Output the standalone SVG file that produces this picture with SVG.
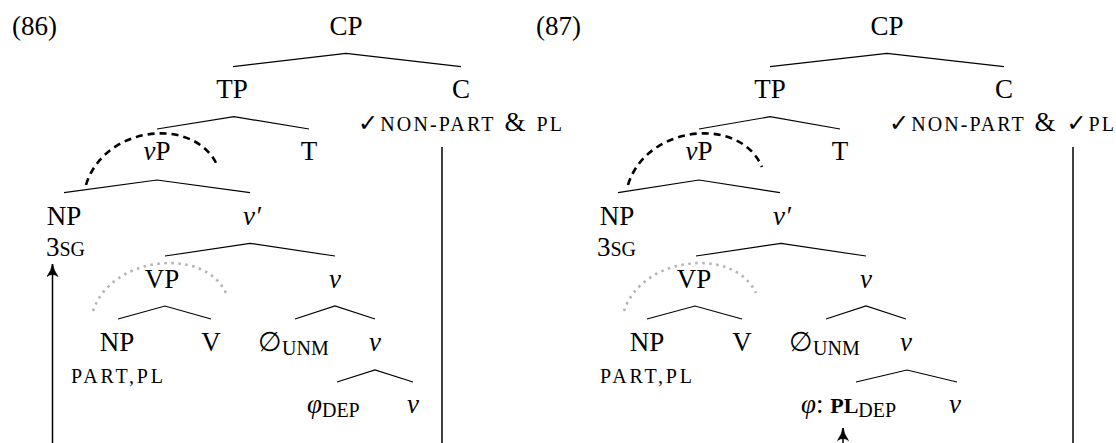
<svg xmlns="http://www.w3.org/2000/svg" width="1116" height="443" viewBox="0 0 1116 443">
<style>
text{font-family:"Liberation Serif",serif;font-size:27px;fill:#000}
.m{text-anchor:middle}
.it{font-style:italic}
.sc{font-size:20px}
.sub{font-size:20px}
.ck{font-family:"DejaVu Sans",sans-serif;font-size:24px}
.l{stroke:#000;stroke-width:1.2;fill:none}
.v{stroke:#000;stroke-width:1.5;fill:none}
.dash{stroke:#000;stroke-width:2.6;fill:none;stroke-dasharray:7 5}
.dot{stroke:#b3b3b3;stroke-width:2.6;fill:none;stroke-dasharray:2.5 4.5}
</style>
<defs>
<marker id="ah" viewBox="0 0 13 12" refX="12.5" refY="6" markerWidth="13" markerHeight="12" markerUnits="userSpaceOnUse" orient="auto">
<path d="M0,0.5 Q6,5 13,6 Q6,7 0,11.5 Q4,6 0,0.5 Z" fill="#000" stroke="#000" stroke-width="0.6" stroke-linejoin="round"/>
</marker>
</defs>

<!-- ===== (86) ===== -->
<g id="n86-num"><text x="12" y="35">(86)</text></g>
<g id="n86-CP"><text class="m" x="346" y="35">CP</text></g>
<g id="n86-TP"><text class="m" x="232" y="98">TP</text></g>
<g id="n86-C"><text class="m" x="461" y="98">C</text>
<text x="358" y="131" textLength="204"><tspan class="ck">✓</tspan><tspan class="sc">NON-PART</tspan> &amp; <tspan class="sc">PL</tspan></text></g>
<g id="n86-vP"><text class="m" x="157" y="160"><tspan class="it">v</tspan>P</text></g>
<g id="n86-T"><text class="m" x="309" y="160">T</text></g>
<g id="n86-NP"><text class="m" x="64" y="225">NP</text>
<text x="46" y="256">3<tspan class="sc">SG</tspan></text></g>
<g id="n86-vbar"><text class="m it" x="252" y="225">v′</text></g>
<g id="n86-VP"><text class="m" x="162" y="288">VP</text></g>
<g id="n86-v1"><text class="m it" x="335" y="288">v</text></g>
<g id="n86-NP2"><text class="m" x="117" y="351">NP</text>
<text x="71" y="383" class="sc" textLength="92">PART,PL</text></g>
<g id="n86-V"><text class="m" x="211" y="351">V</text></g>
<g id="n86-unm"><text x="258" y="351"><tspan font-family="DejaVu Serif">∅</tspan><tspan class="sub" dy="4">UNM</tspan></text></g>
<g id="n86-v2"><text class="m it" x="375" y="351">v</text></g>
<g id="n86-dep"><text x="307" y="413"><tspan class="it">φ</tspan><tspan class="sub" dy="4">DEP</tspan></text></g>
<g id="n86-v3"><text class="m it" x="413" y="413">v</text></g>

<!-- ===== (87) ===== -->
<g id="n87-num"><text x="536" y="35">(87)</text></g>
<g id="n87-CP"><text class="m" x="887" y="35">CP</text></g>
<g id="n87-TP"><text class="m" x="770" y="98">TP</text></g>
<g id="n87-C"><text class="m" x="1004" y="98">C</text>
<text x="889" y="131" textLength="225"><tspan class="ck">✓</tspan><tspan class="sc">NON-PART</tspan> &amp; <tspan class="ck">✓</tspan><tspan class="sc">PL</tspan></text></g>
<g id="n87-vP"><text class="m" x="699" y="160"><tspan class="it">v</tspan>P</text></g>
<g id="n87-T"><text class="m" x="840" y="160">T</text></g>
<g id="n87-NP"><text class="m" x="617" y="225">NP</text>
<text x="597" y="256">3<tspan class="sc">SG</tspan></text></g>
<g id="n87-vbar"><text class="m it" x="782" y="225">v′</text></g>
<g id="n87-VP"><text class="m" x="694" y="288">VP</text></g>
<g id="n87-v1"><text class="m it" x="866" y="288">v</text></g>
<g id="n87-NP2"><text class="m" x="647" y="351">NP</text>
<text x="600" y="383" class="sc" textLength="92">PART,PL</text></g>
<g id="n87-V"><text class="m" x="742" y="351">V</text></g>
<g id="n87-unm"><text x="789" y="351"><tspan font-family="DejaVu Serif">∅</tspan><tspan class="sub" dy="4">UNM</tspan></text></g>
<g id="n87-v2"><text class="m it" x="906" y="351">v</text></g>
<g id="n87-dep"><text x="801" y="413"><tspan class="it">φ</tspan>: <tspan font-weight="bold" font-size="22">PL</tspan><tspan class="sub" dy="4">DEP</tspan></text></g>
<g id="n87-v3"><text class="m it" x="955" y="413">v</text></g>

<!-- ===== connectors ===== -->
<g id="connectors">
<path class="l" d="M233,66.7 L346,53.3 L461,66.7"/>
<path class="l" d="M157,129 L234,116.7 L309,129"/>
<path class="l" d="M64,192.7 L157,180 L250,192.7"/>
<path class="l" d="M165,256 L250,243.3 L335,256"/>
<path class="l" d="M118,319 L165,306 L211,319"/>
<path class="l" d="M295,319 L335,306 L375,319"/>
<path class="l" d="M337,382 L375,370 L413,382"/>
<path class="v" d="M442,147 V443"/>
<path class="v" d="M52.5,443 V264" marker-end="url(#ah)"/>
<path class="dash" d="M86,185 C104,125 196,115 218,167"/>
<path class="dot" d="M93,311 C111,256 204,246 226,293"/>

<path class="l" d="M770,66.7 L887,53.3 L1004,66.7"/>
<path class="l" d="M699,129 L770,116.7 L840,129"/>
<path class="l" d="M618,192.7 L699,180 L780,192.7"/>
<path class="l" d="M696,256 L781,243.3 L866,256"/>
<path class="l" d="M647,319 L695,306 L742,319"/>
<path class="l" d="M826,319 L866,306 L906,319"/>
<path class="l" d="M856,382 L907,370 L957,382"/>
<path class="v" d="M1073,147 V443"/>
<path class="v" d="M843,443 V428" marker-end="url(#ah)"/>
<path class="dash" d="M628,185 C646,125 740,115 762,167"/>
<path class="dot" d="M624,311 C642,256 734,246 756,293"/>
</g>
</svg>
